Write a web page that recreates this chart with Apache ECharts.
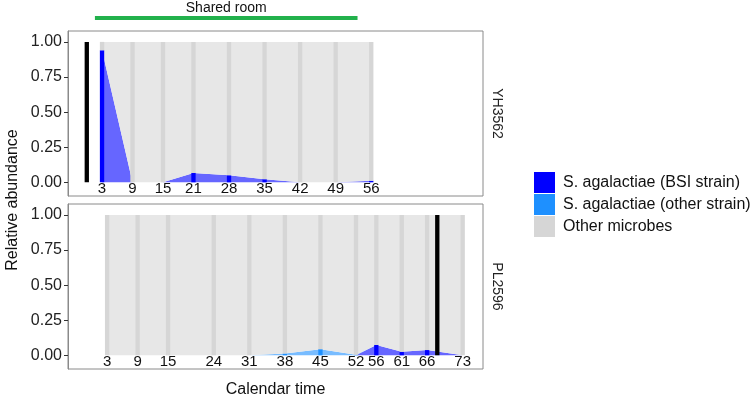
<!DOCTYPE html>
<html>
<head>
<meta charset="utf-8">
<script src="https://cdn.jsdelivr.net/npm/echarts@6/dist/echarts.min.js"></script>
<style>
html,body{margin:0;padding:0;background:#fff;}
#chart{width:753px;height:401px;}
</style>
</head>
<body>
<div id="chart"></div>
<script>
// ---------- data ----------
const seriesNames = ['S. agalactiae (BSI strain)', 'S. agalactiae (other strain)', 'Other microbes'];
const panelNames = ['YH3562', 'PL2596'];

const topDays   = [3, 9, 15, 21, 28, 35, 42, 49, 56];
const topBSI    = [0.94, 0, 0, 0.067, 0.05, 0.022, 0, 0, 0.011];
const topOther  = [0, 0, 0, 0, 0, 0, 0, 0, 0];
const topOffset = -1;          // calendar time = day + offset
const topEvent  = [0];         // BSI day (black bar)

const bottomDays   = [3, 9, 15, 24, 31, 38, 45, 52, 56, 61, 66, 73];
const bottomBSI    = [0, 0, 0, 0, 0, 0, 0, 0, 0.074, 0.025, 0.037, 0];
const bottomOther  = [0, 0, 0, 0, 0, 0.012, 0.044, 0.004, 0, 0, 0, 0];
const bottomOffset = 0;
const bottomEvent  = [68];

const sharedRoom = [0.6, 52.3];   // calendar time range
const yTicks = [0, 0.25, 0.5, 0.75, 1];

// ---------- styling ----------
const FONT = 'Liberation Sans, Arial, sans-serif';
const barColors  = ['#0000FF', '#1E90FF', '#D6D6D6'];
const areaColors = ['#6666FF', '#78BCFF', '#E7E7E7'];
const BAR_W = 0.85;
const LABEL_Y = -0.05;

const panels = [
  {days: topDays, bsi: topBSI, other: topOther, off: topOffset, ev: topEvent},
  {days: bottomDays, bsi: bottomBSI, other: bottomOther, off: bottomOffset, ev: bottomEvent}
];

const grids = [
  {left: 68, width: 415, top: 31, height: 165, show: true, borderColor: '#8a8a8a', borderWidth: 1, backgroundColor: 'transparent'},
  {left: 68, width: 415, top: 204, height: 165, show: true, borderColor: '#8a8a8a', borderWidth: 1, backgroundColor: 'transparent'}
];

const xAxes = grids.map((g, i) => ({
  type: 'value', gridIndex: i, min: -4.7, max: 77,
  axisLine: {show: false}, axisTick: {show: false}, axisLabel: {show: false}, splitLine: {show: false}
}));
const yAxes = grids.map((g, i) => ({
  type: 'value', gridIndex: i, min: -0.0975, max: 1.0775,
  axisLine: {show: true, onZero: false, lineStyle: {color: '#8a8a8a', width: 1}},
  splitLine: {show: false},
  axisTick: {show: true, length: 4, lineStyle: {color: '#333'}, customValues: yTicks},
  axisLabel: {show: true, margin: 6, fontSize: 16, color: '#222', fontFamily: FONT,
              customValues: yTicks, formatter: v => v.toFixed(2)}
}));

function rectItem(params, api) {
  const x = api.value(0), y0 = api.value(1), y1 = api.value(2), ci = api.value(3);
  const w = api.size([BAR_W, 0])[0];
  const p0 = api.coord([x, y0]);
  const p1 = api.coord([x, y1]);
  return {type: 'rect', shape: {x: p0[0] - w / 2, y: p1[1], width: w, height: p0[1] - p1[1]},
          style: {fill: ci === 3 ? '#000000' : barColors[ci]}};
}
function textItem(params, api) {
  const p = api.coord([api.value(0), api.value(1)]);
  return {type: 'text', x: p[0], y: p[1],
          style: {text: String(api.value(2)), fill: '#111', fontSize: 15, fontFamily: FONT, align: 'center', verticalAlign: 'middle'}};
}

const series = [];
panels.forEach((p, gi) => {
  const cal = p.days.map(d => d + p.off);
  const micro = p.days.map((d, k) => 1 - p.bsi[k] - p.other[k]);
  const vals = [p.bsi, p.other, micro];
  // cumulative stack bounds
  const lows = [], highs = [];
  let base = cal.map(() => 0);
  vals.forEach(v => {
    lows.push(base.slice());
    base = base.map((b, k) => b + v[k]);
    highs.push(base.slice());
  });
  // stacked areas (one polygon per layer)
  series.push({
    type: 'custom', xAxisIndex: gi, yAxisIndex: gi, silent: true, z: 1, clip: false,
    data: vals.map((v, si) => [si]),
    renderItem: function (params, api) {
      const si = api.value(0);
      const pts = [];
      for (let k = 0; k < cal.length; k++) pts.push(api.coord([cal[k], highs[si][k]]));
      for (let k = cal.length - 1; k >= 0; k--) pts.push(api.coord([cal[k], lows[si][k]]));
      return {type: 'polygon', shape: {points: pts}, style: {fill: areaColors[si], stroke: null}};
    }
  });
  // stacked bars at sampling times + event bar
  const rects = [];
  cal.forEach((c, k) => {
    vals.forEach((v, si) => {
      if (v[k] > 0) rects.push([c, lows[si][k], highs[si][k], si]);
    });
  });
  p.ev.forEach(d => rects.push([d + p.off, 0, 1, 3]));
  series.push({type: 'custom', xAxisIndex: gi, yAxisIndex: gi, renderItem: rectItem, data: rects, z: 3, silent: true, clip: false});
  // day labels
  series.push({type: 'custom', xAxisIndex: gi, yAxisIndex: gi, renderItem: textItem,
               data: cal.map((c, k) => [c, LABEL_Y, p.days[k]]), z: 4, silent: true, clip: false});
});

// legend-only placeholder series
seriesNames.forEach((n, i) => series.push({
  type: 'bar', name: n, xAxisIndex: 0, yAxisIndex: 0, data: [], itemStyle: {color: barColors[i]}
}));

const chart = echarts.init(document.getElementById('chart'), null, {renderer: 'canvas'});
chart.setOption({
  animation: false,
  backgroundColor: '#fff',
  textStyle: {fontFamily: FONT},
  grid: grids, xAxis: xAxes, yAxis: yAxes, series: series,
  legend: {
    orient: 'vertical', left: 534, top: 172, itemWidth: 21, itemHeight: 21, itemGap: 1, padding: 0,
    icon: 'rect', selectedMode: false,
    textStyle: {fontSize: 16, color: '#111', fontFamily: FONT, padding: [0, 0, 0, 3]},
    data: seriesNames.map((n, i) => ({name: n, itemStyle: {color: barColors[i], opacity: 1}}))
  }
});

// shared-room bar and texts
const s0 = chart.convertToPixel({gridIndex: 0}, [sharedRoom[0], 0]);
const s1 = chart.convertToPixel({gridIndex: 0}, [sharedRoom[1], 0]);
chart.setOption({
  graphic: [
    {type: 'line', shape: {x1: s0[0], y1: 18, x2: s1[0], y2: 18}, style: {stroke: '#22B14C', lineWidth: 4}},
    {type: 'text', x: (s0[0] + s1[0]) / 2, y: 8, style: {text: 'Shared room', fontSize: 14, fill: '#111', fontFamily: FONT, align: 'center', verticalAlign: 'middle'}},
    {type: 'text', x: 497, y: 31 + 82.5, rotation: -Math.PI / 2, style: {text: panelNames[0], fontSize: 14, fill: '#222', fontFamily: FONT, align: 'center', verticalAlign: 'middle'}},
    {type: 'text', x: 497, y: 204 + 82.5, rotation: -Math.PI / 2, style: {text: panelNames[1], fontSize: 14, fill: '#222', fontFamily: FONT, align: 'center', verticalAlign: 'middle'}},
    {type: 'text', x: 13, y: 200, rotation: Math.PI / 2, style: {text: 'Relative abundance', fontSize: 16, fill: '#111', fontFamily: FONT, align: 'center', verticalAlign: 'middle'}},
    {type: 'text', x: 275.5, y: 390, style: {text: 'Calendar time', fontSize: 16, fill: '#111', fontFamily: FONT, align: 'center', verticalAlign: 'middle'}}
  ]
});
</script>
</body>
</html>
